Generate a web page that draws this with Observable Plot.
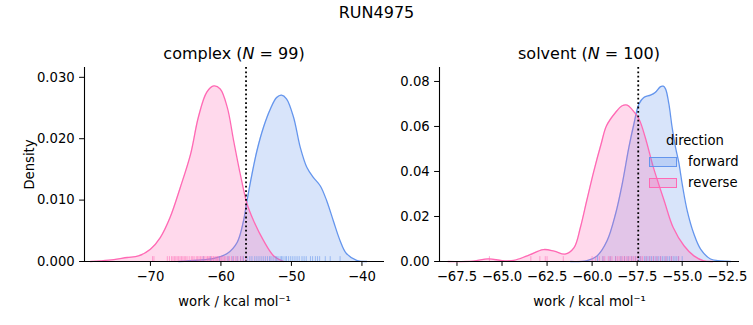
<!DOCTYPE html>
<html><head><meta charset="utf-8">
<script src="https://cdn.jsdelivr.net/npm/d3@7"></script>
<script src="https://cdn.jsdelivr.net/npm/@observablehq/plot@0.6"></script>
<style>
body{margin:0;background:#fff;}
#fig{position:relative;width:753px;height:325px;font-family:"DejaVu Sans",sans-serif;color:#000;overflow:hidden}
.abs{position:absolute;white-space:nowrap;line-height:20px}
.sw{position:absolute;width:26px;height:8px;border-width:1.3px;border-style:solid}
</style></head><body><div id="fig"></div>
<script>
// ---- data ----
const suptitle = "RUN4975";
const panelNames = ["complex", "solvent"];
const panelN = [99, 100];
const directions = ["forward", "reverse"];
const colors = ["#6495ed", "#ff69b4"];
const xLabel = "work / kcal mol⁻¹";
const yLabel = "Density";

const complexXTicks = [-70, -60, -50, -40];
const complexYTicks = [0, 0.01, 0.02, 0.03];
const solventXTicks = [-67.5, -65, -62.5, -60, -57.5, -55, -52.5];
const solventYTicks = [0, 0.02, 0.04, 0.06, 0.08];

const complexMarker = -56.44;
const solventMarker = -57.44;

const complexForwardX = [-66, -63.4, -61.0, -59.1, -57.7, -56.8, -56.3, -55.6, -54.9, -53.95, -53.0, -52.1, -51.4, -50.7, -49.7, -48.75, -47.8, -46.9, -45.9, -45.0, -44.05, -43.1, -42.2, -40.75, -39.3];
const complexForwardDensity = [0, 0.0002, 0.0005, 0.0013, 0.0031, 0.0066, 0.0099, 0.0142, 0.018, 0.0219, 0.0248, 0.0267, 0.0271, 0.0265, 0.0235, 0.0186, 0.0153, 0.0137, 0.0123, 0.0099, 0.0066, 0.0034, 0.0013, 0.0002, 0];
const complexReverseX = [-78.5, -77.1, -75.2, -73.3, -71.7, -70.0, -68.6, -67.2, -65.75, -64.3, -63.2, -62.0, -61.0, -60.1, -59.1, -58.2, -57.25, -56.3, -55.35, -53.95, -52.5, -51.1];
const complexReverseDensity = [0, 0.0001, 0.0003, 0.00065, 0.0009, 0.002, 0.0039, 0.0072, 0.0121, 0.0175, 0.0235, 0.0276, 0.0286, 0.0281, 0.0251, 0.0197, 0.0142, 0.0094, 0.0066, 0.0034, 0.0009, 0];

const solventForwardX = [-61.2, -60.28, -59.72, -59.17, -58.7, -58.33, -57.96, -57.68, -57.4, -57.13, -56.76, -56.5, -56.2, -56.05, -55.92, -55.74, -55.56, -55.37, -55.19, -55.0, -54.72, -54.35, -53.98, -53.43, -52.87, -52.3];
const solventForwardDensity = [0, 0.0004, 0.0025, 0.0092, 0.0211, 0.0344, 0.0507, 0.0611, 0.070, 0.0729, 0.0739, 0.0751, 0.0777, 0.0779, 0.0766, 0.070, 0.0596, 0.0507, 0.044, 0.0344, 0.0225, 0.0122, 0.0055, 0.0011, 0.0003, 0];
const solventReverseX = [-68.0, -66.6, -65.75, -65.0, -64.35, -63.6, -62.7, -62.1, -61.5, -61.0, -60.65, -60.3, -59.9, -59.5, -59.2, -58.7, -58.33, -58.05, -57.8, -57.4, -57.05, -56.6, -56.0, -55.5, -54.9, -54.35, -53.8, -53.3];
const solventReverseDensity = [0, 0.0002, 0.0012, 0.0004, 0.0005, 0.0025, 0.0053, 0.0046, 0.0033, 0.0062, 0.0151, 0.027, 0.0403, 0.0522, 0.0603, 0.0662, 0.0692, 0.0695, 0.0677, 0.0633, 0.0551, 0.0418, 0.027, 0.0151, 0.007, 0.0025, 0.0003, 0];

const complexForwardRug = [-62.5, -61.5, -60.2, -59.0, -58.3, -57.7, -57.2, -56.8, -56.3, -55.9, -55.6, -55.2, -54.9, -54.6, -54.3, -54.0, -53.7, -53.4, -53.1, -52.9, -52.6, -52.3, -52.1, -51.9, -51.6, -51.4, -51.2, -50.9, -50.7, -50.4, -50.1, -49.8, -49.5, -49.2, -48.9, -48.5, -48.2, -47.9, -47.3, -47.0, -46.6, -46.3, -46.0, -45.2, -44.5, -43.1];
const complexReverseRug = [-69.7, -69.5, -67.6, -67.3, -67.0, -66.8, -66.6, -66.4, -66.2, -66.0, -65.8, -65.6, -65.4, -65.2, -65.0, -64.8, -64.5, -64.2, -64.0, -63.8, -63.5, -63.3, -63.1, -62.9, -62.7, -62.5, -62.3, -62.1, -61.9, -61.8, -61.6, -61.4, -61.3, -61.1, -61.0, -60.8, -60.6, -60.5, -60.3, -60.1, -59.9, -59.7, -59.5, -59.3, -59.0, -58.8, -58.5, -58.2, -57.9, -57.6, -57.2, -56.9, -56.5];
const solventForwardRug = [-59.7, -59.4, -59.0, -58.7, -58.4, -58.2, -58.0, -57.8, -57.6, -57.4, -57.3, -57.1, -57.0, -56.9, -56.8, -56.7, -56.6, -56.5, -56.4, -56.3, -56.2, -56.1, -56.0, -55.9, -55.8, -55.7, -55.6, -55.5, -55.4, -55.3, -55.2, -55.0];
const solventReverseRug = [-65.7, -63.4, -62.9, -62.6, -62.5, -61.6, -60.0, -59.8, -59.6, -59.4, -59.3, -59.1, -59.0, -58.9, -58.7, -58.6, -58.5, -58.4, -58.3, -58.2, -58.1, -58.0, -57.9, -57.8, -57.7, -57.6, -57.5, -57.3, -57.2, -57.0, -56.8, -56.6, -56.4, -56.2, -55.9, -55.6, -55.2];

// ---- build ----
function curveRows(xs, ds, dir) { return xs.map((x, i) => ({x, density: ds[i], direction: dir})); }
function rugRows(vs, dir) { return vs.map(v => ({value: v, direction: dir})); }

function panel(o) {
  const curves = o.curves;
  const rug = o.rug;
  const rugH = o.yDomain[1] * 0.025;
  return Plot.plot({
    width: o.width, height: 325,
    marginLeft: o.ml, marginRight: o.mr, marginTop: 67, marginBottom: 64,
    style: {fontFamily: "DejaVu Sans", fontSize: "13.2px", color: "black", background: "transparent", overflow: "visible"},
    x: {domain: o.xDomain, ticks: o.xTicks, tickFormat: o.xFmt, tickSize: 4.9, tickPadding: 5.5,
        label: xLabel, labelAnchor: "center", labelOffset: 44, labelArrow: "none"},
    y: {domain: o.yDomain, ticks: o.yTicks, tickFormat: o.yFmt, tickSize: 4.9, tickPadding: 4.9,
        label: o.ylabel, labelAnchor: "center", labelOffset: 60, labelArrow: "none"},
    color: {domain: directions, range: colors},
    marks: [
      ...directions.flatMap(d => [
        Plot.areaY(curves.filter(r => r.direction === d), {x: "x", y: "density", fill: "direction", fillOpacity: 0.25, curve: "catmull-rom"}),
        Plot.lineY(curves.filter(r => r.direction === d), {x: "x", y: "density", stroke: "direction", strokeWidth: 1.3, curve: "catmull-rom"})
      ]),
      Plot.ruleX(rug, {x: "value", y1: 0, y2: rugH, stroke: "direction", strokeOpacity: 0.55, strokeWidth: 1}),
      Plot.ruleX([o.marker], {stroke: "black", strokeWidth: 1.8, strokeDasharray: "1.8,2.6"}),
      Plot.ruleY([0], {stroke: "black", strokeWidth: 1.1}),
      Plot.ruleX([o.xDomain[0]], {stroke: "black", strokeWidth: 1.1})
    ]
  });
}

const fig = document.getElementById("fig");

const left = panel({
  width: 395, ml: 84, mr: 11,
  xDomain: [-79.35, -36.8], yDomain: [0, 0.0316],
  xTicks: complexXTicks, yTicks: complexYTicks, xFmt: d3.format("d"), yFmt: d3.format(".3f"),
  ylabel: yLabel, marker: complexMarker,
  curves: [...curveRows(complexForwardX, complexForwardDensity, "forward"), ...curveRows(complexReverseX, complexReverseDensity, "reverse")],
  rug: [...rugRows(complexForwardRug, "forward"), ...rugRows(complexReverseRug, "reverse")]
});
const right = panel({
  width: 358, ml: 44, mr: 14,
  xDomain: [-68.47, -51.82], yDomain: [0, 0.0862],
  xTicks: solventXTicks, yTicks: solventYTicks, xFmt: d3.format(".1f"), yFmt: d3.format(".2f"),
  ylabel: null, marker: solventMarker,
  curves: [...curveRows(solventForwardX, solventForwardDensity, "forward"), ...curveRows(solventReverseX, solventReverseDensity, "reverse")],
  rug: [...rugRows(solventForwardRug, "forward"), ...rugRows(solventReverseRug, "reverse")]
});
left.style.position = "absolute"; left.style.left = "0px"; left.style.top = "0px";
right.style.position = "absolute"; right.style.left = "395px"; right.style.top = "0px";
fig.appendChild(left);
fig.appendChild(right);

function addText(html, css) {
  const d = document.createElement("div");
  d.className = "abs";
  d.innerHTML = html;
  Object.assign(d.style, css);
  fig.appendChild(d);
  return d;
}
addText(suptitle, {left: "0px", width: "753px", textAlign: "center", top: "3px", fontSize: "16px"});
const frames = [[84, 384], [439, 739]];
panelNames.forEach((p, i) => {
  addText(`${p} (<i>N</i> = ${panelN[i]})`, {left: frames[i][0] + "px", width: (frames[i][1] - frames[i][0]) + "px", textAlign: "center", top: "44px", fontSize: "16px"});
});
// legend
addText("direction", {left: "655px", width: "80px", textAlign: "center", top: "131px", fontSize: "13.2px"});
directions.forEach((d, i) => {
  const sw = document.createElement("div");
  sw.className = "sw";
  const c = d3.color(colors[i]);
  sw.style.left = "649px"; sw.style.top = (157 + i * 21) + "px";
  sw.style.borderColor = colors[i];
  sw.style.background = `rgba(${c.r},${c.g},${c.b},0.25)`;
  fig.appendChild(sw);
  addText(d, {left: "688px", top: (152 + i * 21) + "px", fontSize: "13.2px"});
});
</script></body></html>
